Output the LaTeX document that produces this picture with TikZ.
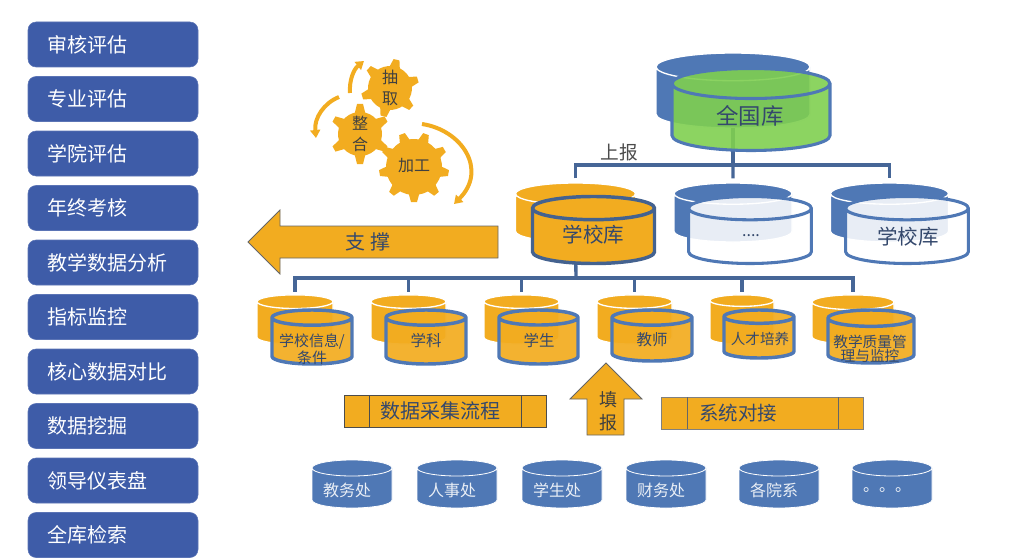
\documentclass[tikz,border=0pt]{standalone}
\usepackage{fontspec}
\setmainfont{Noto Sans CJK SC}
\usetikzlibrary{arrows.meta,shapes.geometric}

\definecolor{amber}{HTML}{F2AC20}
\definecolor{steel}{HTML}{4F78B5}
\definecolor{deepsteel}{HTML}{44628F}
\definecolor{navy}{HTML}{3E5CA8}
\definecolor{leaf}{HTML}{7FCF50}
\definecolor{inkblue}{HTML}{34486C}

\newcommand{\pxfont}[1]{\fontsize{#1}{#1}\selectfont}

\tikzset{
  menubox/.style={draw=navy!85!white, line width=.4pt, fill=navy, rounded corners=6pt, text=white,
    text width=99pt, inner xsep=14.25pt, inner ysep=0pt, minimum height=33.75pt,
    font=\pxfont{15}},
  dbase/.style={cylinder, shape border rotate=90, inner sep=0pt, outer sep=0pt, anchor=shape center},
  dbsize/.style 2 args={minimum width=#1, text width=#1, minimum height=#2},
  dbback/.style={dbase, draw=white, line width=1pt, aspect=.18},
  dbfront/.style={dbase, draw=steel, line width=2.3pt, aspect=.19},
  dbtext/.style={inner sep=0pt, text=inkblue, align=center},
  treeline/.style={draw=deepsteel!80!steel, line width=2.5pt},
  procbar/.style={draw=black!70, fill=amber, line width=.6pt, inner sep=0pt,
    minimum width=151.5pt, minimum height=24pt, text=inkblue},
  gearlabel/.style={inner sep=0pt, text=black!75, align=center},
  turn/.style={draw=amber, line width=3pt, -{Triangle[length=6pt,width=7.5pt]}},
  bigarrow/.style={draw=black!60, fill=amber, line width=.6pt}
}

% one cog wheel: centre x, centre y, body radius, outer radius, teeth, turn
\newcommand{\cogwheel}[6]{
  \begin{scope}[shift={(#1,#2)}, rotate=#6]
    \fill[amber] (0,0) circle [radius=#3*.75pt];
    \foreach \k in {1,...,#5}
      \fill[amber, rotate=\k*360/#5]
        (#3-2,-5.5) -- (#4,-3) -- (#4,3) -- (#3-2,5.5) -- cycle;
  \end{scope}
}

\begin{document}
\begin{tikzpicture}[x=.75pt, y=-.75pt]
  \useasboundingbox (0,0) rectangle (1014,560);

  % menu column
  \foreach \label [count=\i from 0] in {审核评估,专业评估,学院评估,年终考核,教学数据分析,
      指标监控,核心数据对比,数据挖掘,领导仪表盘,全库检索}
    \node[menubox] (menu\i) at (113,44.5+54.5*\i) {\label};

  % cog wheels and their turning arrows
  \cogwheel{390}{88}{22}{29}{6}{17}
  \cogwheel{360}{134}{22}{30}{6}{30}
  \cogwheel{414}{167}{28}{35}{9}{30}
  \node[gearlabel, font=\fontsize{12}{15.75}\selectfont] (extract) at (390,88) {抽\\取};
  \node[gearlabel, font=\fontsize{12}{15.75}\selectfont] (merge) at (360,134) {整\\合};
  \node[gearlabel, font=\pxfont{12}] (process) at (414,166) {加工};
  \coordinate (turnAa) at (350,93);
  \coordinate (turnAb) at (364,61);
  \coordinate (turnBa) at (339,97);
  \coordinate (turnBb) at (316,138);
  \coordinate (turnCa) at (422,124);
  \coordinate (turnCb) at (454,204);
  \draw[turn] (turnAa) .. controls (349,80) and (354,69) .. (turnAb);
  \draw[turn] (turnBa) .. controls (324,103) and (314,118) .. (turnBb);
  \draw[turn] (turnCa) .. controls (462,130) and (488,170) .. (turnCb);

  % national and school level stores, rear halves first
  \node[dbback, fill=steel, dbsize={115.5pt}{56.25pt}] (backnation) at (733,90.5) {};
  \node[dbback, fill=amber, dbsize={90pt}{44.25pt}] (backschool) at (575.5,212.5) {};
  \node[dbback, fill=steel, dbsize={88.5pt}{44.25pt}] (backmid) at (733,212.5) {};
  \node[dbback, fill=steel, dbsize={88.5pt}{44.25pt}] (backright) at (889.5,212.5) {};

  % lower stores
  \foreach \nm/\bx/\bw in {info/295/76,subj/408.5/75,stud/521.5/75,teach/634.5/75,
      talent/742/64,quality/853/82}
    \node[dbback, fill=amber, dbsize={\bw*.75pt}{37pt}] (back\nm) at (\bx,319.5) {};

  % reporting lines
  \coordinate (upbus) at (733,165);
  \coordinate (downbus) at (576,278);
  \draw[treeline] (backnation.south) -- (backnation.south |- upbus);
  \draw[treeline] ([yshift=3.5pt]backschool.north) |- (upbus) -| ([yshift=3.5pt]backright.north);
  \draw[treeline] (backnation.south |- upbus) -- ([yshift=3.5pt]backmid.north);
  \draw[treeline] (backschool.south) -- (downbus);
  \draw[treeline] ([yshift=2.2pt]backinfo.north) |- (downbus) -| ([yshift=2.2pt]backquality.north);
  \foreach \nm in {subj,stud,teach,talent}
    \draw[treeline] (back\nm.north |- downbus) -- ([yshift=2.2pt]back\nm.north);

  % front halves
  \node[dbfront, fill=leaf, fill opacity=.9, dbsize={118.5pt}{61.5pt}] (nation) at (751,109.5) {};
  \node[dbfront, draw=deepsteel, line width=2.6pt, fill=amber, dbsize={91.5pt}{50.25pt}] (school) at (593.5,230) {};
  \node[dbfront, fill=white, fill opacity=.87, dbsize={92pt}{50.25pt}] (midschool) at (750,230) {};
  \node[dbfront, fill=white, fill opacity=.87, dbsize={92pt}{50.25pt}] (rightschool) at (907,230) {};
  \node[dbtext, font=\pxfont{16.8}] (nationtext) at (750,116) {全国库};
  \node[dbtext, font=\pxfont{15.4}] (schooltext) at (593.5,235) {学校库};
  \node[dbtext, font=\pxfont{12}] (midtext) at (751,236) {....};
  \node[dbtext, font=\pxfont{15.4}] (righttext) at (908,237) {学校库};
  \node[inner sep=0pt, text=black!70, font=\pxfont{14}] (report) at (619,152) {上报};

  \foreach \nm/\fx/\fw/\fh in {info/312/80/54,subj/426/80/54,stud/538.5/79/54,
      teach/652/80/51,talent/759/70/48,quality/871/86/53}
    \node[dbfront, line width=2.6pt, fill=amber, fill opacity=.93, dbsize={\fw*.75pt}{\fh*.75pt}] (store\nm) at (\fx,310+\fh/2) {};
  \node[dbtext, font=\fontsize{11.2}{11.2}\selectfont] (infotext) at (312,349.5) {学校信息/\\条件};
  \node[dbtext, font=\pxfont{11.6}] (subjtext) at (426,341) {学科};
  \node[dbtext, font=\pxfont{11.6}] (studtext) at (539,341) {学生};
  \node[dbtext, font=\pxfont{11.6}] (teachtext) at (652,340) {教师};
  \node[dbtext, font=\pxfont{10.9}] (talenttext) at (760,339) {人才培养};
  \node[dbtext, font=\fontsize{11}{10.8}\selectfont] (qualitytext) at (870,349) {教学质量管\\理与监控};

  % support arrow
  \draw[bigarrow] (248,242) -- (280,210) -- (280,226) -- (498,226) -- (498,258) -- (280,258) -- (280,274) -- cycle;
  \node[inner sep=0pt, text=inkblue, font=\pxfont{15}] (support) at (368,242) {支\hspace{.25em}撑};

  % collection bars
  \node[procbar] (collect) at (445,411) {};
  \draw[draw=black!70, line width=.6pt] (369,395) -- (369,427) (521,395) -- (521,427);
  \node[dbtext, font=\pxfont{15}] (collecttext) at (440,411) {数据采集流程};
  \node[procbar, draw=black!50] (connect) at (762.5,413) {};
  \draw[draw=black!60, line width=.6pt] (687,397) -- (687,429) (838,397) -- (838,429);
  \node[dbtext, font=\pxfont{14.6}] (connecttext) at (738,413) {系统对接};

  % entry arrow
  \draw[bigarrow] (606,363) -- (642,399) -- (624,399) -- (624,435) -- (587,435) -- (587,399) -- (570,399) -- cycle;
  \node[inner sep=0pt, text=black!75, align=center, font=\fontsize{13.5}{17.25}\selectfont] (entry) at (608,411) {填\\报};

  % source systems
  \foreach \nm/\x/\txt in {a/352/教务处,b/457/人事处,c/562/学生处,d/666/财务处,e/779/各院系,f/892/。。。} {
    \node[dbase, draw=white, line width=.6pt, fill=steel, aspect=.2, dbsize={60pt}{36pt}] (source\nm) at (\x,484) {};
    \node[inner sep=0pt, text=white!88!steel, font=\pxfont{12}] (label\nm) at (\x-5,490) {\txt};
  }
\end{tikzpicture}
\end{document}
